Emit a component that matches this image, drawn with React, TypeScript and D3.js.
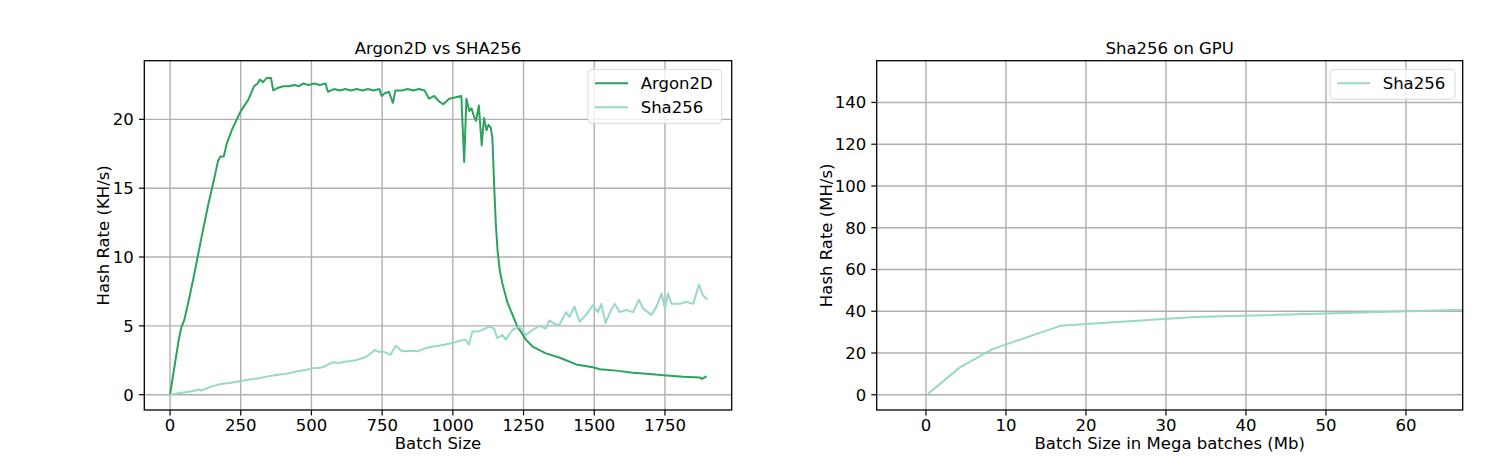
import * as d3 from "d3";

// Argon2D vs SHA256 (CPU), batch size -> hash rate (KH/s)
const argonX = [
  0, 10, 20, 30, 40, 50, 70, 90, 110, 135, 155, 170, 178, 190, 200, 220, 250, 276, 297, 310,
  318, 329, 341, 357, 365, 383, 400, 420, 440, 455, 470, 490, 510, 530, 550, 558, 580, 600,
  620, 640, 660, 680, 700, 720, 740, 748, 760, 774, 788, 797, 820, 840, 860, 880, 900, 916,
  934, 952, 966, 987, 1010, 1030, 1040, 1048, 1058, 1066, 1075, 1082, 1092, 1102, 1110, 1119,
  1126, 1134, 1140, 1146, 1152, 1158, 1166, 1175, 1193, 1217, 1228, 1240, 1258, 1282, 1329,
  1376, 1436, 1495, 1519, 1578, 1637, 1696, 1755, 1815, 1874, 1880, 1890, 1897,
];
const argonY = [
  0, 1.3, 2.6, 3.9, 4.9, 5.4, 7.2, 9.2, 11.3, 13.8, 15.6, 17.0, 17.3, 17.3, 18.2, 19.3, 20.6,
  21.4, 22.4, 22.6, 22.9, 22.7, 23.0, 23.0, 22.1, 22.3, 22.4, 22.4, 22.5, 22.4, 22.6, 22.5,
  22.6, 22.5, 22.6, 22.0, 22.2, 22.1, 22.2, 22.1, 22.2, 22.1, 22.2, 22.1, 22.2, 21.7, 21.9,
  22.0, 21.2, 22.1, 22.1, 22.2, 22.1, 22.2, 22.1, 21.5, 21.7, 21.3, 21.1, 21.5, 21.6, 21.7,
  16.9, 21.5, 20.6, 20.8, 20.2, 19.9, 21.0, 18.1, 20.1, 19.2, 19.6, 19.4, 18.6, 15.2, 12.4,
  10.5, 9.0, 8.1, 6.7, 5.5, 4.95, 4.6, 4.0, 3.5, 3.0, 2.7, 2.2, 2.0, 1.85, 1.75, 1.6, 1.5,
  1.4, 1.3, 1.25, 1.15, 1.25, 1.35,
];

const shaX = [
  0, 30, 60, 90, 102, 110, 140, 178, 210, 246, 280, 314, 350, 382, 420, 451, 480, 505, 530,
  546, 574, 600, 615, 640, 656, 680, 697, 724, 740, 751, 770, 779, 799, 820, 850, 874, 900,
  929, 950, 974, 998, 1021, 1045, 1057, 1069, 1090, 1104, 1128, 1146, 1157, 1175, 1187, 1211,
  1234, 1258, 1282, 1305, 1329, 1341, 1359, 1376, 1400, 1412, 1430, 1448, 1471, 1495, 1513,
  1525, 1540, 1554, 1572, 1590, 1614, 1637, 1658, 1673, 1702, 1720, 1738, 1750, 1761, 1773,
  1803, 1826, 1850, 1870, 1885, 1900,
];
const shaY = [
  0, 0.1, 0.2, 0.3, 0.4, 0.3, 0.55, 0.77, 0.85, 0.97, 1.1, 1.2, 1.35, 1.45, 1.55, 1.7, 1.8,
  1.93, 1.95, 2.05, 2.35, 2.3, 2.4, 2.45, 2.5, 2.65, 2.8, 3.25, 3.1, 3.15, 3.0, 2.9, 3.55,
  3.15, 3.2, 3.15, 3.35, 3.5, 3.55, 3.65, 3.75, 3.9, 4.0, 3.65, 4.6, 4.6, 4.7, 4.95, 4.8, 4.1,
  4.35, 4.0, 4.7, 4.95, 4.35, 4.7, 5.0, 4.8, 5.4, 5.15, 5.05, 6.0, 5.65, 6.4, 5.3, 5.8, 6.5,
  6.0, 6.6, 5.2, 5.9, 6.6, 6.0, 6.15, 6.0, 6.9, 6.25, 5.8, 6.4, 7.35, 6.25, 7.35, 6.6, 6.6,
  6.75, 6.6, 8.0, 7.2, 6.9,
];

// Sha256 on GPU, batch size in mega batches -> MH/s
const gpuX = [0.26, 0.52, 1.05, 2.1, 4.19, 8.39, 16.78, 33.55, 67.11];
const gpuY = [0.5, 1.3, 3.0, 6.3, 13.0, 22.0, 33.0, 37.2, 40.7];

const leftXTicks = [0, 250, 500, 750, 1000, 1250, 1500, 1750];
const leftYTicks = [0, 5, 10, 15, 20];
const rightXTicks = [0, 10, 20, 30, 40, 50, 60];
const rightYTicks = [0, 20, 40, 60, 80, 100, 120, 140];

const DARK = "#2ca25f";
const LIGHT = "#99d8c9";
const FONT = "DejaVu Sans, sans-serif";
const FS = 16.5;

type Series = { xs: number[]; ys: number[]; color: string; label: string };

type PanelProps = {
  x0: number;
  x1: number;
  y0: number;
  y1: number;
  xDomain: [number, number];
  yDomain: [number, number];
  xTicks: number[];
  yTicks: number[];
  title: string;
  xLabel: string;
  yLabel: string;
  yLabelX: number;
  series: Series[];
  legendBox: { x: number; y: number; w: number };
  id: string;
};

const Panel = (p: PanelProps) => {
  const xScale = d3.scaleLinear().domain(p.xDomain).range([p.x0, p.x1]);
  const yScale = d3.scaleLinear().domain(p.yDomain).range([p.y1, p.y0]);

  const line = d3
    .line<[number, number]>()
    .x((d) => xScale(d[0]))
    .y((d) => yScale(d[1]));

  const legendH = 14 + p.series.length * 24;

  return (
    <g fontFamily={FONT} fontSize={FS}>
      <clipPath id={p.id}>
        <rect x={p.x0} y={p.y0} width={p.x1 - p.x0} height={p.y1 - p.y0} />
      </clipPath>
      {/* grid */}
      {p.xTicks.map((t) => (
        <line key={"gx" + t} x1={xScale(t)} x2={xScale(t)} y1={p.y0} y2={p.y1} stroke="#b0b0b0" strokeWidth={1.4} />
      ))}
      {p.yTicks.map((t) => (
        <line key={"gy" + t} x1={p.x0} x2={p.x1} y1={yScale(t)} y2={yScale(t)} stroke="#b0b0b0" strokeWidth={1.4} />
      ))}
      {/* lines */}
      <g clipPath={`url(#${p.id})`}>
        {p.series.map((s) => (
          <path
            key={s.label}
            d={line(s.xs.map((x, i) => [x, s.ys[i]] as [number, number])) || ""}
            fill="none"
            stroke={s.color}
            strokeWidth={2}
            strokeLinejoin="round"
          />
        ))}
      </g>
      {/* frame */}
      <rect x={p.x0} y={p.y0} width={p.x1 - p.x0} height={p.y1 - p.y0} fill="none" stroke="#000" strokeWidth={1.3} />
      {/* ticks */}
      {p.xTicks.map((t) => (
        <g key={"tx" + t}>
          <line x1={xScale(t)} x2={xScale(t)} y1={p.y1} y2={p.y1 + 5.4} stroke="#000" strokeWidth={1.2} />
          <text x={xScale(t)} y={p.y1 + 20.7} textAnchor="middle">
            {t}
          </text>
        </g>
      ))}
      {p.yTicks.map((t) => (
        <g key={"ty" + t}>
          <line x1={p.x0 - 5.4} x2={p.x0} y1={yScale(t)} y2={yScale(t)} stroke="#000" strokeWidth={1.2} />
          <text x={p.x0 - 10.5} y={yScale(t)} dy="0.36em" textAnchor="end">
            {t}
          </text>
        </g>
      ))}
      {/* labels */}
      <text x={(p.x0 + p.x1) / 2} y={p.y0 - 6.5} textAnchor="middle">
        {p.title}
      </text>
      <text x={(p.x0 + p.x1) / 2} y={p.y1 + 38.5} textAnchor="middle">
        {p.xLabel}
      </text>
      <text
        transform={`translate(${p.yLabelX}, ${(p.y0 + p.y1) / 2}) rotate(-90)`}
        textAnchor="middle"
        dy="0.36em"
      >
        {p.yLabel}
      </text>
      {/* legend */}
      <rect
        x={p.legendBox.x}
        y={p.legendBox.y}
        width={p.legendBox.w}
        height={legendH - 14 + 6}
        rx={4}
        fill="#fff"
        fillOpacity={0.8}
        stroke="#d9d9d9"
      />
      {p.series.map((s, i) => {
        const cy = p.legendBox.y + 14 + i * 24;
        return (
          <g key={"lg" + s.label}>
            <line x1={p.legendBox.x + 7} x2={p.legendBox.x + 40} y1={cy} y2={cy} stroke={s.color} strokeWidth={2} />
            <text x={p.legendBox.x + 52.7} y={cy} dy="0.36em">
              {s.label}
            </text>
          </g>
        );
      })}
    </g>
  );
};

export default function App() {
  return (
    <svg
      width={1500}
      height={465}
      style={{ position: "absolute", left: 0, top: 0, background: "#fff" }}
    >
      <Panel
        id="clipL"
        x0={144.3}
        x1={731.7}
        y0={60.7}
        y1={410}
        xDomain={[-91, 1986]}
        yDomain={[-1.11, 24.26]}
        xTicks={leftXTicks}
        yTicks={leftYTicks}
        title="Argon2D vs SHA256"
        xLabel="Batch Size"
        yLabel="Hash Rate (KH/s)"
        yLabelX={103.3}
        series={[
          { xs: argonX, ys: argonY, color: DARK, label: "Argon2D" },
          { xs: shaX, ys: shaY, color: LIGHT, label: "Sha256" },
        ]}
        legendBox={{ x: 588, y: 69.3, w: 133.7 }}
      />
      <Panel
        id="clipR"
        x0={876.7}
        x1={1462.7}
        y0={60.7}
        y1={410}
        xDomain={[-6.16, 67.09]}
        yDomain={[-7.3, 160]}
        xTicks={rightXTicks}
        yTicks={rightYTicks}
        title="Sha256 on GPU"
        xLabel="Batch Size in Mega batches (Mb)"
        yLabel="Hash Rate  (MH/s)"
        yLabelX={826.5}
        series={[{ xs: gpuX, ys: gpuY, color: LIGHT, label: "Sha256" }]}
        legendBox={{ x: 1330, y: 69.3, w: 125 }}
      />
    </svg>
  );
}
